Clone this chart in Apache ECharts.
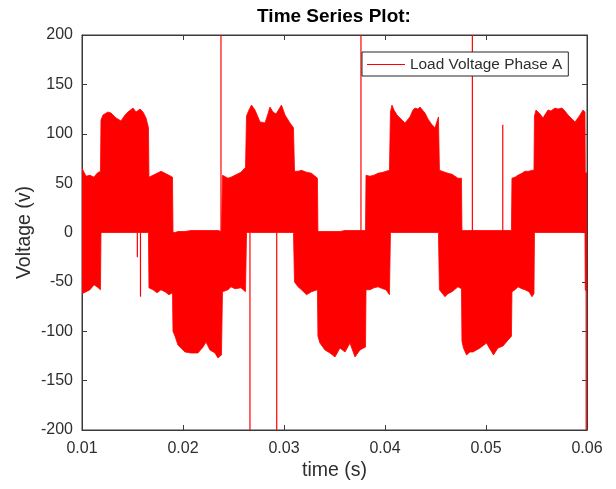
<!DOCTYPE html>
<html>
<head>
<meta charset="utf-8">
<script src="https://cdn.jsdelivr.net/npm/echarts@6/dist/echarts.min.js"></script>
<style>
html,body{margin:0;padding:0;background:#fff;}
#chart{width:616px;height:489px;}
</style>
</head>
<body>
<div id="chart"></div>
<script>
// Envelope of the PWM load voltage (time in s, upper and lower bound in V)
const time = [
  0.01000, 0.01040, 0.01079, 0.01119, 0.01149, 0.01183,
  0.01188, 0.01208, 0.01257, 0.01287, 0.01337, 0.01386, 0.01426, 0.01455, 0.01505, 0.01535, 0.01574, 0.01604, 0.01634, 0.01658,
  0.01663, 0.01703, 0.01743, 0.01782, 0.01822, 0.01861, 0.01896,
  0.01901, 0.01921, 0.01950, 0.02020, 0.02079, 0.02148, 0.02198, 0.02228, 0.02267, 0.02317, 0.02346, 0.02381,
  0.02391, 0.02445, 0.02475, 0.02515, 0.02574, 0.02619,
  0.02629, 0.02653, 0.02678, 0.02713, 0.02742, 0.02762, 0.02812, 0.02841, 0.02861, 0.02891, 0.02921, 0.02945, 0.02975, 0.03010, 0.03059, 0.03094,
  0.03104, 0.03139, 0.03173, 0.03223, 0.03272, 0.03331,
  0.03336, 0.03356, 0.03406, 0.03455, 0.03505, 0.03554, 0.03604, 0.03653, 0.03703, 0.03752, 0.03807,
  0.03812, 0.03851, 0.03891, 0.03931, 0.03980, 0.04010, 0.04044,
  0.04054, 0.04069, 0.04089, 0.04119, 0.04158, 0.04198, 0.04247, 0.04277, 0.04297, 0.04326, 0.04346, 0.04396, 0.04425, 0.04465, 0.04495, 0.04529,
  0.04539, 0.04594, 0.04623, 0.04663, 0.04722, 0.04757,
  0.04762, 0.04777, 0.04807, 0.04841, 0.04871, 0.04940, 0.05005, 0.05039, 0.05074, 0.05118, 0.05168, 0.05217, 0.05252,
  0.05257, 0.05287, 0.05317, 0.05356, 0.05386, 0.05426, 0.05455, 0.05475,
  0.05480, 0.05495, 0.05535, 0.05564, 0.05614, 0.05643, 0.05683, 0.05713, 0.05752, 0.05782, 0.05812, 0.05851, 0.05881, 0.05911, 0.05931, 0.05960, 0.05980,
  0.05983, 0.06000
];
const upper = [
  65, 57, 58, 56, 60, 62,
  114, 119, 122, 121, 116, 113, 119, 122, 126, 122, 125, 122, 116, 106,
  56, 58, 60, 62, 60, 58, 56,
  0, 0, 1, 1, 2, 2, 2, 2, 2, 2, 2, 1,
  58, 55, 56, 58, 61, 66,
  118, 124, 129, 124, 117, 112, 111, 120, 127, 122, 120, 124, 129, 119, 111, 106,
  62, 62, 63, 61, 60, 55,
  1, 1, 1, 1, 1, 1, 2, 2, 2, 2, 2,
  58, 57, 58, 60, 61, 62, 63,
  122, 129, 124, 119, 115, 111, 117, 124, 126, 125, 127, 121, 115, 109, 106, 117,
  63, 61, 60, 59, 55, 55,
  2, 2, 2, 2, 2, 2, 2, 2, 2, 2, 2, 2, 2,
  55, 56, 58, 60, 62, 62, 63, 63,
  118, 124, 120, 116, 124, 123, 126, 125, 126, 123, 119, 115, 112, 116, 119, 124, 122,
  61, 60
];
const lower = [
  -62, -60, -58, -53, -55, -58,
  0, 0, 0, 0, 0, 0, 0, 0, 0, 0, 0, 0, 0, 0,
  -56, -58, -61, -58, -60, -63, -61,
  -100, -105, -114, -121, -122, -122, -116, -111, -119, -122, -127, -124,
  -60, -58, -55, -57, -56, -60,
  0, 0, 0, 0, 0, 0, 0, 0, 0, 0, 0, 0, 0, 0, 0, 0,
  -50, -55, -58, -63, -60, -58,
  -105, -112, -119, -122, -126, -117, -121, -112, -126, -119, -116,
  -58, -58, -56, -55, -57, -58, -63,
  0, 0, 0, 0, 0, 0, 0, 0, 0, 0, 0, 0, 0, 0, 0, 0,
  -58, -65, -62, -60, -55, -57,
  -110, -117, -124, -121, -121, -117, -112, -118, -124, -117, -115, -109, -105,
  -60, -58, -55, -57, -58, -60, -65, -62,
  0, 0, 0, 0, 0, 0, 0, 0, 0, 0, 0, 0, 0, 0, 0, 0, 0,
  -58, -60
];
// Isolated spikes (time, start value, end value)
const spikeTime = [0.01548, 0.01579, 0.02376, 0.02663, 0.02928, 0.03762, 0.04865, 0.05166, 0.05992];
const spikeFrom = [0, 0, 0, 0, 0, 0, 0, 0, 0];
const spikeTo   = [-25, -65, 200, -200, -200, 200, 200, 109, -200];

const xTicks = ['0.01', '0.02', '0.03', '0.04', '0.05', '0.06'];
const seriesName = 'Load Voltage Phase A';

const RED = '#ff0000';
const AX = '#3a3a3a';
const TXT = '#2e2e2e';
const FONT = '"Liberation Sans", Arial, Helvetica, sans-serif';

const envData = time.map((t, i) => [t, lower[i], upper[i]]);
const spikeData = spikeTime.map((t, i) => [t, spikeFrom[i], spikeTo[i]]);

const chart = echarts.init(document.getElementById('chart'), null, {renderer: 'canvas'});
chart.setOption({
  animation: false,
  backgroundColor: '#fff',
  title: {
    text: 'Time Series Plot:',
    left: 334, top: 7, padding: 0,
    textAlign: 'center',
    textStyle: {fontFamily: FONT, fontSize: 19, fontWeight: 'bold', color: '#000'}
  },
  legend: {
    data: [seriesName],
    left: 362, top: 52,
    padding: [5, 6, 4, 5],
    backgroundColor: '#fff',
    borderColor: '#262626', borderWidth: 1, borderRadius: 0,
    icon: 'rect', itemWidth: 38, itemHeight: 1.2, itemGap: 5,
    textStyle: {fontFamily: FONT, fontSize: 15.4, color: TXT, padding: [0, 0, 0, 0]}
  },
  grid: {left: 82, right: 29, top: 35, bottom: 59, containLabel: false, outerBoundsMode: 'none',
         show: true, borderColor: AX, borderWidth: 1, backgroundColor: 'transparent'},
  xAxis: [{
    type: 'value', min: 0.01, max: 0.06, interval: 0.01,
    name: 'time (s)', nameLocation: 'middle', nameGap: 31, nameMoveOverlap: false,
    nameTextStyle: {fontFamily: FONT, fontSize: 19.5, color: TXT},
    axisLine: {show: true, onZero: false, lineStyle: {color: AX, width: 1}},
    axisTick: {show: true, inside: true, length: 5, lineStyle: {color: AX}},
    axisLabel: {margin: 11, fontFamily: FONT, fontSize: 16, color: TXT,
      formatter: v => xTicks[Math.round((v - 0.01) / 0.01)] || ''},
    splitLine: {show: false}
  }, {
    type: 'value', min: 0.01, max: 0.06, interval: 0.01, position: 'top',
    axisLine: {show: true, onZero: false, lineStyle: {color: AX, width: 1}},
    axisTick: {show: true, inside: true, length: 5, lineStyle: {color: AX}},
    axisLabel: {show: false}, splitLine: {show: false}
  }],
  yAxis: [{
    type: 'value', min: -200, max: 200, interval: 50,
    name: 'Voltage (v)', nameLocation: 'middle', nameGap: 47, nameRotate: 90, nameMoveOverlap: false,
    nameTextStyle: {fontFamily: FONT, fontSize: 19.5, color: TXT},
    axisLine: {show: true, onZero: false, lineStyle: {color: AX, width: 1}},
    axisTick: {show: true, inside: true, length: 5, lineStyle: {color: AX}},
    axisLabel: {margin: 9, fontFamily: FONT, fontSize: 16, color: TXT},
    splitLine: {show: false}
  }, {
    type: 'value', min: -200, max: 200, interval: 50, position: 'right',
    axisLine: {show: true, onZero: false, lineStyle: {color: AX, width: 1}},
    axisTick: {show: true, inside: true, length: 5, lineStyle: {color: AX}},
    axisLabel: {show: false}, splitLine: {show: false}
  }],
  series: [{
    name: seriesName,
    type: 'custom',
    clip: true,
    itemStyle: {color: RED},
    encode: {x: 0, y: [1, 2]},
    data: envData,
    renderItem: function (params, api) {
      // whole envelope drawn as one filled polygon (upper edge forward, lower edge back)
      if (params.dataIndex !== 0) return null;
      const pts = [];
      for (let i = 0; i < envData.length; i++) pts.push(api.coord([envData[i][0], envData[i][2]]));
      for (let i = envData.length - 1; i >= 0; i--) pts.push(api.coord([envData[i][0], envData[i][1]]));
      return {type: 'polygon', shape: {points: pts},
              style: {fill: RED, stroke: RED, lineWidth: 0.8}};
    }
  }, {
    name: seriesName,
    type: 'custom',
    clip: true,
    itemStyle: {color: RED},
    encode: {x: 0, y: [1, 2]},
    data: spikeData,
    renderItem: function (params, api) {
      const d = spikeData[params.dataIndex];
      const p1 = api.coord([d[0], d[1]]);
      const p2 = api.coord([d[0], d[2]]);
      return {type: 'line', shape: {x1: p1[0], y1: p1[1], x2: p2[0], y2: p2[1]},
              style: {stroke: RED, lineWidth: 1.2}};
    }
  }]
});
</script>
</body>
</html>
